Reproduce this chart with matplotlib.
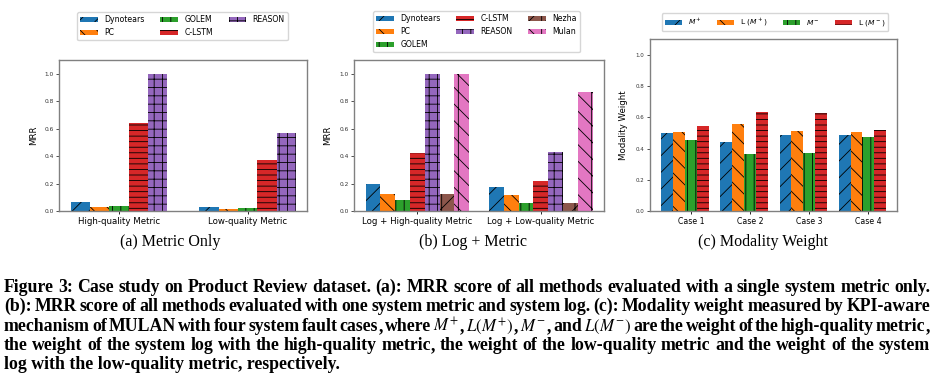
import matplotlib
matplotlib.use('Agg')
import matplotlib.pyplot as plt
import numpy as np

# ---------------- data ----------------
# (a) Metric only
a_categories = ['High-quality Metric', 'Low-quality Metric']
a_methods = ['Dynotears', 'PC', 'GOLEM', 'C-LSTM', 'REASON']
a_dynotears = [0.065, 0.030]
a_pc = [0.030, 0.018]
a_golem = [0.035, 0.020]
a_clstm = [0.640, 0.375]
a_reason = [1.000, 0.570]

# (b) Log + Metric
b_categories = ['Log + High-quality Metric', 'Log + Low-quality Metric']
b_methods = ['Dynotears', 'PC', 'GOLEM', 'C-LSTM', 'REASON', 'Nezha', 'Mulan']
b_dynotears = [0.200, 0.175]
b_pc = [0.125, 0.118]
b_golem = [0.080, 0.060]
b_clstm = [0.420, 0.220]
b_reason = [1.000, 0.430]
b_nezha = [0.125, 0.055]
b_mulan = [1.000, 0.870]

# (c) Modality weight
c_cases = ['Case 1', 'Case 2', 'Case 3', 'Case 4']
c_labels = ['$M^+$', 'L ($M^+$)', '$M^-$', 'L ($M^-$)']
c_m_plus = [0.500, 0.440, 0.488, 0.490]
c_l_m_plus = [0.505, 0.557, 0.510, 0.508]
c_m_minus = [0.455, 0.368, 0.373, 0.475]
c_l_m_minus = [0.545, 0.635, 0.628, 0.522]

subcaptions = ['(a) Metric Only', '(b) Log + Metric', '(c) Modality Weight']
caption_lines = [
    "Figure 3: Case study on Product Review dataset. (a): MRR score of all methods evaluated with a single system metric only.",
    "(b): MRR score of all methods evaluated with one system metric and system log. (c): Modality weight measured by KPI-aware",
    "mechanism of MULAN with four system fault cases, where $M^{+}$, $L(M^{+})$, $M^{-}$, and $L(M^{-})$ are the weight of the high-quality metric,",
    "the weight of the system log with the high-quality metric, the weight of the low-quality metric and the weight of the system",
    "log with the low-quality metric, respectively.",
]

# ---------------- style ----------------
colors = {'Dynotears': '#1f77b4', 'PC': '#ff7f0e', 'GOLEM': '#2ca02c',
          'C-LSTM': '#d62728', 'REASON': '#9467bd', 'Nezha': '#8c564b',
          'Mulan': '#e377c2'}
hatches = {'Dynotears': '//', 'PC': '\\\\', 'GOLEM': '||', 'C-LSTM': '---',
           'REASON': '++', 'Nezha': '//|', 'Mulan': '\\\\|'}
c_colors = ['#1f77b4', '#ff7f0e', '#2ca02c', '#d62728']
c_hatches = ['//', '\\\\', '||', '---']

plt.rcParams['hatch.linewidth'] = 0.6
W, H = 942, 381
fig = plt.figure(figsize=(W / 100, H / 100), dpi=100)


def ax_rect(l, r, t, b):
    return [l / W, 1 - b / H, (r - l) / W, (b - t) / H]


def style_axes(ax, tick_fs, cat_fs):
    for s in ax.spines.values():
        s.set_color('#808080')
        s.set_linewidth(1.0)
    ax.tick_params(axis='y', labelsize=tick_fs, length=2.5, width=0.6, pad=1.5,
                   colors='#333333')
    ax.tick_params(axis='x', labelsize=cat_fs, length=2.5, width=0.6, pad=2)
    ax.set_ylim(0, 1.1)
    ax.set_yticks([0.0, 0.2, 0.4, 0.6, 0.8, 1.0])


# ---- (a)
axa = fig.add_axes(ax_rect(59.3, 307.3, 60, 211))
a_vals = [a_dynotears, a_pc, a_golem, a_clstm, a_reason]
xa = np.arange(len(a_categories))
wa = 0.15
for k, (m, v) in enumerate(zip(a_methods, a_vals)):
    axa.bar(xa + (k - 2) * wa, v, wa, color=colors[m], hatch=hatches[m],
            edgecolor='black', linewidth=0, label=m)
axa.set_xticks(xa)
axa.set_xticklabels(a_categories)
style_axes(axa, 4.2, 6.2)
axa.set_ylabel('MRR', fontsize=6.2)
axa.yaxis.set_label_coords(-0.084, 0.5)
axa.legend(ncol=3, fontsize=5.6, loc='lower center', handlelength=2.3,
           bbox_to_anchor=(182.5 / W, 1 - 44 / H), bbox_transform=fig.transFigure)

# ---- (b)
axb = fig.add_axes(ax_rect(354.3, 604, 60, 211))
b_vals = [b_dynotears, b_pc, b_golem, b_clstm, b_reason, b_nezha, b_mulan]
xb = np.arange(len(b_categories))
wb = 0.12
for k, (m, v) in enumerate(zip(b_methods, b_vals)):
    axb.bar(xb + (k - 3) * wb, v, wb, color=colors[m], hatch=hatches[m],
            edgecolor='black', linewidth=0, label=m)
axb.set_xticks(xb)
axb.set_xticklabels(b_categories)
style_axes(axb, 4.2, 6.2)
axb.set_ylabel('MRR', fontsize=6.2)
axb.yaxis.set_label_coords(-0.089, 0.5)
axb.legend(ncol=3, fontsize=5.6, loc='lower center', handlelength=2.3,
           bbox_to_anchor=(476.5 / W, 1 - 56 / H), bbox_transform=fig.transFigure)

# ---- (c)
axc = fig.add_axes(ax_rect(650, 897.3, 39.3, 211))
c_vals = [c_m_plus, c_l_m_plus, c_m_minus, c_l_m_minus]
xc = np.arange(len(c_cases))
wc = 0.2
for k, (lab, v) in enumerate(zip(c_labels, c_vals)):
    axc.bar(xc + k * wc, v, wc, color=c_colors[k], hatch=c_hatches[k],
            edgecolor='black', linewidth=0, label=lab)
axc.set_xticks(xc + 2 * wc)
axc.set_xticklabels(c_cases)
style_axes(axc, 4.0, 5.6)
axc.set_ylabel('Modality Weight', fontsize=6.2)
axc.yaxis.set_label_coords(-0.089, 0.5)
axc.legend(ncol=4, fontsize=5.4, loc='lower center', handlelength=2.3,
           bbox_to_anchor=(775 / W, 1 - 35 / H), bbox_transform=fig.transFigure)

# ---- sub captions
sub_x = [170, 472.5, 762.5]
for x, s in zip(sub_x, subcaptions):
    fig.text(x / W, 1 - 246 / H, s, ha='center', va='baseline',
             family='Liberation Serif', fontsize=11.5)

# ---- main caption (justified, word by word)
baselines = [292, 311, 331, 350, 369]
left_px, right_px = 4, 930
renderer = fig.canvas.get_renderer()


def text_kw(fs, math=False):
    return dict(family='Liberation Serif', weight='normal' if math else 'bold',
                fontsize=fs, va='baseline', ha='left', math_fontfamily='stix')


def measure(s, fs, math=False):
    t = fig.text(0, 0, s, **text_kw(fs, math))
    w_ = t.get_window_extent(renderer).width
    t.remove()
    return w_


natural = measure(caption_lines[0], 11.0)
cap_fs = 11.0 * (right_px - left_px - 2) / natural
math_fs = cap_fs * 0.95


def split_word(w_):
    # returns list of (text, is_math); trailing commas drawn separately
    if '$' in w_:
        j = w_.rfind('$')
        parts = [(w_[:j + 1], True)]
        if w_[j + 1:]:
            parts.append((w_[j + 1:], False))
        return parts
    if w_.endswith(',') and len(w_) > 1:
        return [(w_[:-1], False), (',', False)]
    return [(w_, False)]


for i, (line, yb) in enumerate(zip(caption_lines, baselines)):
    y = 1 - yb / H
    if i == len(caption_lines) - 1:
        fig.text(left_px / W, y, line, **text_kw(cap_fs))
        continue
    words = line.split(' ')
    pieces = [split_word(w_) for w_ in words]
    pw = []
    for p in pieces:
        ws = []
        for s, m in p:
            wdt = measure(s, math_fs if m else cap_fs, m)
            if m:
                wdt += 0.6
            elif s == ',':
                wdt += 0.3
            ws.append(wdt)
        pw.append(ws)
    widths = [sum(p) for p in pw]
    gap = (right_px - left_px - sum(widths)) / (len(words) - 1)
    x = left_px
    for p, ws in zip(pieces, pw):
        xx = x
        for (s, m), wdt in zip(p, ws):
            if s == ',' and not m:
                xx += 0.3
            fig.text(xx / W, y, s, **text_kw(math_fs if m else cap_fs, m))
            xx += wdt if not (s == ',' and not m) else wdt - 0.3
        x += sum(ws) + gap

fig.savefig('out.png', dpi=100)
